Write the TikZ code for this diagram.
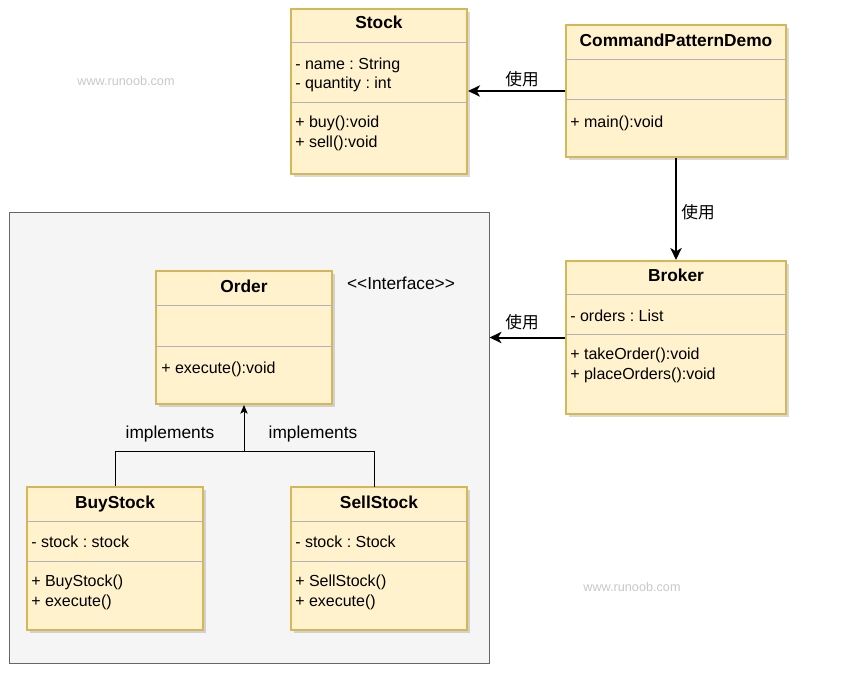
\documentclass[tikz,border=0pt]{standalone}
\usepackage{fontspec}
\setmainfont{Liberation Sans}
\newfontfamily\cjk{Noto Sans CJK SC}
\usetikzlibrary{arrows.meta,shadows,fit}
\definecolor{boxfill}{HTML}{FFF2CC}
\definecolor{boxline}{HTML}{D6B656}
\definecolor{divcol}{HTML}{B3B3B3}
\definecolor{contfill}{HTML}{F5F5F5}
\definecolor{contline}{HTML}{666666}
\definecolor{wmark}{HTML}{C8C8C8}
\frenchspacing
\begin{document}
\begin{tikzpicture}[x=0.75pt,y=-0.75pt,
  cls/.style={draw=boxline, fill=boxfill, line width=1.5pt, inner sep=0pt,
    drop shadow={shadow xshift=2.5pt, shadow yshift=-2.5pt, opacity=0.3}},
  cont/.style={draw=contline, fill=contfill, line width=0.75pt, inner sep=0pt},
  divider/.style={draw=divcol, line width=0.75pt},
  ctitle/.style={font=\bfseries\fontsize{13}{15}\selectfont, inner sep=0pt, text height=1.5ex, text depth=0pt, yshift=-0.9pt},
  member/.style={font=\fontsize{12}{14}\selectfont\frenchspacing, anchor=west, inner sep=0pt, text height=1.5ex, text depth=0pt, yshift=-0.75pt},
  freelabel/.style={font=\fontsize{13}{15}\selectfont, inner sep=0pt, text height=1.5ex, text depth=0pt, yshift=-0.75pt},
  cjklabel/.style={font=\cjk\fontsize{12.5}{15}\selectfont, inner sep=0pt},
  wm/.style={font=\fontsize{9.5}{11}\selectfont, text=wmark, inner sep=0pt},
  usearrow/.style={line width=1.5pt, -{Stealth[length=9pt,width=8.5pt,inset=2.5pt]}},
  implline/.style={line width=0.75pt},
  implarrow/.style={line width=0.75pt, -{Stealth[length=6.5pt,width=5.5pt,inset=1.5pt]}}
]
\useasboundingbox (0,0) rectangle (841,676);

% watermarks
\node[wm] (wm1) at (126,81) {www.runoob.com};
\node[wm] (wm2) at (632,587) {www.runoob.com};

% container
\node[cont, fit={(9,212) (489,663)}] (cont) {};

% Stock
\node[cls, fit={(291,9) (467,174)}] (stock) {};
\draw[divider] (stock.west |- 0,42) -- (stock.east |- 0,42);
\draw[divider] (stock.west |- 0,102) -- (stock.east |- 0,102);
\node[ctitle] (stockT) at (379,22) {Stock};
\node[member] (stockA1) at (295,63) {- name : String};
\node[member] (stockA2) at (295,82) {- quantity : int};
\node[member] (stockM1) at (295,121) {+ buy():void};
\node[member] (stockM2) at (295,141) {+ sell():void};

% CommandPatternDemo
\node[cls, fit={(566,25) (786,157)}] (cpd) {};
\draw[divider] (cpd.west |- 0,59) -- (cpd.east |- 0,59);
\draw[divider] (cpd.west |- 0,99) -- (cpd.east |- 0,99);
\node[ctitle] (cpdT) at (676,40) {CommandPatternDemo};
\node[member] (cpdM1) at (570,121) {+ main():void};

% Broker
\node[cls, fit={(566,261) (786,414)}] (broker) {};
\draw[divider] (broker.west |- 0,294) -- (broker.east |- 0,294);
\draw[divider] (broker.west |- 0,334) -- (broker.east |- 0,334);
\node[ctitle] (brokerT) at (676,275) {Broker};
\node[member] (brokerA1) at (570,315) {- orders : List};
\node[member] (brokerM1) at (570,353) {+ takeOrder():void};
\node[member] (brokerM2) at (570,373) {+ placeOrders():void};

% Order
\node[cls, fit={(156,271) (332,404)}] (order) {};
\draw[divider] (order.west |- 0,305) -- (order.east |- 0,305);
\draw[divider] (order.west |- 0,346) -- (order.east |- 0,346);
\node[ctitle] (orderT) at (244,286) {Order};
\node[member] (orderM1) at (161,367) {+ execute():void};
\node[freelabel] (iface) at (401,283) {<{}<Interface>{}>};

% BuyStock
\node[cls, fit={(27,487) (203,630)}] (buy) {};
\draw[divider] (buy.west |- 0,521) -- (buy.east |- 0,521);
\draw[divider] (buy.west |- 0,561) -- (buy.east |- 0,561);
\node[ctitle] (buyT) at (115,502) {BuyStock};
\node[member] (buyA1) at (31,541) {- stock : stock};
\node[member] (buyM1) at (31,580) {+ BuyStock()};
\node[member] (buyM2) at (31,600) {+ execute()};

% SellStock
\node[cls, fit={(291,487) (467,630)}] (sell) {};
\draw[divider] (sell.west |- 0,521) -- (sell.east |- 0,521);
\draw[divider] (sell.west |- 0,561) -- (sell.east |- 0,561);
\node[ctitle] (sellT) at (379,502) {SellStock};
\node[member] (sellA1) at (295,541) {- stock : Stock};
\node[member] (sellM1) at (295,580) {+ SellStock()};
\node[member] (sellM2) at (295,600) {+ execute()};

% implements connectors
\coordinate (junc) at (order.south |- 0,451);
\coordinate (sellTop) at (374,487);
\draw[implline] (buy.north) |- (sellTop |- junc) -- (sellTop);
\draw[implarrow] (junc) -- (order.south);
\node[freelabel] (impl1) at (170,432) {implements};
\node[freelabel] (impl2) at (313,432) {implements};

% use connectors
\draw[usearrow] (cpd.west) -- (stock.east |- cpd.west);
\node[cjklabel] (use1) at (522,79) {使用};
\draw[usearrow] (cpd.south) -- (broker.north);
\node[cjklabel] (use2) at (698,212) {使用};
\draw[usearrow] (broker.west) -- (cont.east |- broker.west);
\node[cjklabel] (use3) at (522,322) {使用};
\end{tikzpicture}
\end{document}
